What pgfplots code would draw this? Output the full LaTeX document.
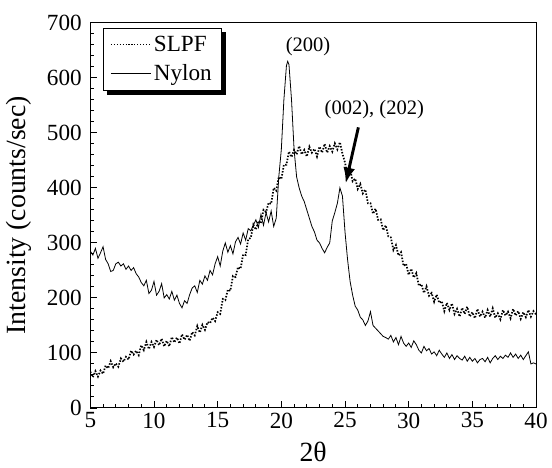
\documentclass[border=0pt]{standalone}
\usepackage{fontspec}
\setmainfont{Liberation Serif}
\usepackage{pgfplots}
\pgfplotsset{compat=1.18}
\usetikzlibrary{arrows.meta,backgrounds}

\pgfplotstableread{
x y
5.0 285
5.2 278
5.4 290
5.6 272
5.8 282
6.0 293
6.2 270
6.4 262
6.6 248
6.8 250
7.0 262
7.2 265
7.4 258
7.6 262
7.8 252
8.0 258
8.2 250
8.4 255
8.6 244
8.8 238
9.0 228
9.2 222
9.4 232
9.6 208
9.8 214
10.0 230
10.2 205
10.4 212
10.6 226
10.8 200
11.0 206
11.2 198
11.4 212
11.6 196
11.8 205
12.0 190
12.2 182
12.4 195
12.6 190
12.8 206
13.0 218
13.2 222
13.4 210
13.6 232
13.8 225
14.0 240
14.2 232
14.4 250
14.6 242
14.8 262
15.0 275
15.2 258
15.4 285
15.6 300
15.8 283
16.0 295
16.2 280
16.4 302
16.6 310
16.8 298
17.0 318
17.2 305
17.4 326
17.6 322
17.8 332
18.0 342
18.2 328
18.4 352
18.6 332
18.8 355
19.0 338
19.2 358
19.4 330
19.6 345
19.8 420
20.0 470
20.2 560
20.4 622
20.5 630
20.6 624
20.8 560
21.0 470
21.2 420
21.4 400
21.6 385
21.8 375
22.0 360
22.2 345
22.4 330
22.6 320
22.8 305
23.0 300
23.2 290
23.4 282
23.6 292
23.8 300
24.0 340
24.2 355
24.4 372
24.6 400
24.8 385
25.0 320
25.2 270
25.4 230
25.6 205
25.8 185
26.0 178
26.2 165
26.4 160
26.6 150
26.8 158
27.0 175
27.2 150
27.4 145
27.6 140
27.8 135
28.0 130
28.2 128
28.4 125
28.6 132
28.8 120
29.0 128
29.2 115
29.4 130
29.6 118
29.8 112
30.0 118
30.2 110
30.4 122
30.6 115
30.8 105
31.0 100
31.2 112
31.4 104
31.6 108
31.8 98
32.0 102
32.2 95
32.4 105
32.6 98
32.8 92
33.0 100
33.2 90
33.4 97
33.6 88
33.8 95
34.0 90
34.2 87
34.4 94
34.6 85
34.8 92
35.0 85
35.2 90
35.4 82
35.6 88
35.8 90
36.0 84
36.2 92
36.4 82
36.6 90
36.8 95
37.0 88
37.2 94
37.4 90
37.6 96
37.8 92
38.0 100
38.2 92
38.4 98
38.6 90
38.8 96
39.0 88
39.2 95
39.4 102
39.6 80
39.8 82
40.0 80
}\nylon

\pgfplotstableread{
x y
5.0 66
5.2 56
5.4 67
5.6 57
5.8 68
6.0 62
6.2 77
6.4 72
6.6 85
6.8 74
7.0 81
7.2 75
7.4 90
7.6 84
7.8 93
8.0 88
8.2 104
8.4 97
8.6 104
8.8 96
9.0 114
9.2 105
9.4 120
9.6 107
9.8 120
10.0 111
10.2 124
10.4 114
10.6 126
10.8 112
11.0 122
11.2 112
11.4 129
11.6 119
11.8 128
12.0 117
12.2 134
12.4 124
12.6 133
12.8 122
13.0 138
13.2 132
13.4 149
13.6 137
13.8 151
14.0 142
14.2 156
14.4 154
14.6 164
14.8 158
15.0 174
15.2 171
15.4 198
15.6 196
15.8 215
16.0 213
16.2 240
16.4 238
16.6 256
16.8 253
17.0 279
17.2 278
17.4 307
17.6 309
17.8 333
18.0 324
18.2 340
18.4 336
18.6 360
18.8 356
19.0 373
19.2 371
19.4 400
19.6 395
19.8 420
20.0 416
20.2 442
20.4 442
20.6 466
20.8 456
21.0 469
21.2 461
21.4 476
21.6 461
21.8 469
22.0 457
22.2 475
22.4 464
22.6 471
22.8 457
23.0 475
23.2 464
23.4 480
23.6 464
23.8 476
24.0 466
24.2 481
24.4 470
24.6 483
24.8 462
25.0 446
25.2 422
25.4 434
25.6 412
25.8 417
26.0 398
26.2 407
26.4 390
26.6 397
26.8 372
27.0 372
27.2 353
27.4 362
27.6 342
27.8 343
28.0 323
28.2 332
28.4 312
28.6 310
28.8 287
29.0 296
29.2 277
29.4 283
29.6 258
29.8 262
30.0 242
30.2 253
30.4 237
30.6 245
30.8 222
31.0 225
31.2 209
31.4 221
31.6 204
31.8 209
32.0 193
32.2 206
32.4 191
32.6 194
32.8 176
33.0 191
33.2 178
33.4 190
33.6 171
33.8 180
34.0 166
34.2 182
34.4 171
34.6 184
34.8 166
35.0 174
35.2 163
35.4 180
35.6 166
35.8 175
36.0 164
36.2 178
36.4 166
36.6 181
36.8 164
37.0 172
37.2 161
37.4 178
37.6 168
37.8 175
38.0 163
38.2 180
38.4 168
38.6 176
38.8 162
39.0 174
39.2 165
39.4 178
39.6 166
39.8 176
40.0 170
}\slpf

\begin{document}
\begin{tikzpicture}
\begin{axis}[
  scale only axis,
  width=336.75pt, height=291pt,
  xmin=5, xmax=40, ymin=0, ymax=700,
  xtick={5,10,...,40}, ytick={0,100,...,700},
  minor x tick num=4, minor y tick num=4,
  tick pos=left, tick align=inside,
  major tick length=5pt, minor tick length=3pt,
  every tick/.style={black, line width=0.7pt},
  axis line style={line width=0.75pt},
  /pgf/number format/assume math mode=true,
  ticklabel style={font=\fontsize{17.5}{20}\selectfont},
  yticklabel style={xshift=-3pt},
  label style={font=\fontsize{21}{24}\selectfont},
  xlabel={2θ},
  xlabel style={at={(axis description cs:0.5,-0.115)}, anchor=center},
  ylabel={Intensity (counts/sec)},
  ylabel style={at={(axis description cs:-0.16,0.5)}, anchor=center},
  legend style={name=leg, at={(rel axis cs:0,1)}, anchor=north west, xshift=9.75pt, yshift=-3.75pt,
    draw=black, line width=0.75pt, fill=white,
    font=\fontsize{17.5}{20}\selectfont, row sep=4pt, inner xsep=5pt, inner ysep=4pt},
  legend cell align=left,
  legend image code/.code={\draw[#1] (0pt,0pt) -- (30pt,0pt);},
]
\addplot[black, line width=1.3pt, dash pattern=on 1.1pt off 1.2pt,
  legend image post style={line width=0.9pt, dash pattern=on 0.9pt off 1.3pt}] table {\slpf};
\addlegendentry{SLPF}
\addplot[black, line width=0.6pt] table {\nylon};
\addlegendentry{Nylon}
\node[font=\fontsize{15.5}{18}\selectfont] at (axis cs:22.1,657) {(200)};
\node[font=\fontsize{15.5}{18}\selectfont] at (axis cs:27.3,543) {(002), (202)};
\draw[line width=2.2pt, -{Latex[length=12pt,width=9pt]}] (axis cs:26.05,510) -- (axis cs:25.05,408);
\end{axis}
\begin{pgfonlayer}{background}
\fill[black] ([xshift=3pt,yshift=-3pt]leg.south west) rectangle ([xshift=3pt,yshift=-3pt]leg.north east);
\end{pgfonlayer}
\draw[draw=none] ([xshift=-68.25pt,yshift=-45pt]current axis.south west) rectangle ([xshift=9pt,yshift=17.25pt]current axis.north east);
\end{tikzpicture}
\end{document}
